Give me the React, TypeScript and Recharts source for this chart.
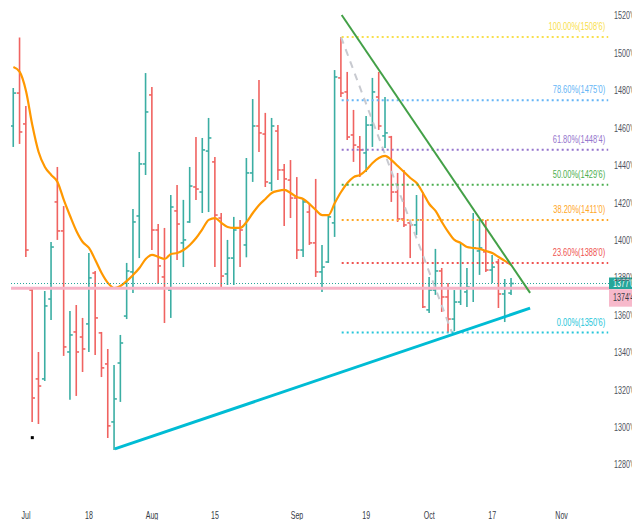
import { Bar, ComposedChart, Line, ReferenceDot, ReferenceLine, XAxis, YAxis } from "recharts";

// daily OHLC, Jun 29 .. Oct 20 (trading days)
const opens = [
  1461.2, 1478.8, 1462.3, 1373.5, 1326.0, 1326.0, 1368.7, 1420.6, 1405.1, 1340.4,
  1351.1, 1348.4, 1355.4, 1382.6, 1350.6, 1334.0, 1303.0, 1334.5, 1359.6, 1383.2,
  1413.1, 1440.9, 1477.8, 1405.6, 1380.5, 1373.5, 1415.8, 1398.7, 1409.9, 1428.6,
  1425.9, 1447.8, 1442.0, 1412.0, 1382.1, 1390.6, 1406.7, 1397.6, 1436.1, 1461.2,
  1456.9, 1430.7, 1458.5, 1437.7, 1432.3, 1422.7, 1394.9, 1415.2, 1398.7, 1383.2,
  1388.5, 1409.4, 1486.9, 1479.4, 1456.4, 1450.0, 1446.8, 1461.7, 1476.7, 1455.9,
  1455.3, 1425.9, 1411.5, 1409.4, 1408.3, 1411.0, 1362.9, 1373.5, 1383.7, 1369.8,
  1358.0, 1367.1, 1372.5, 1374.6, 1394.4, 1393.9, 1384.2, 1388.5, 1371.4, 1371.9,
];
const highs = [
  1481.5, 1508.5, 1471.9, 1374.6, 1340.4, 1373.0, 1399.2, 1439.3, 1418.4, 1362.3,
  1365.5, 1358.6, 1393.3, 1383.7, 1351.1, 1342.0, 1333.5, 1349.5, 1388.0, 1416.8,
  1447.3, 1489.5, 1482.0, 1408.8, 1406.7, 1424.3, 1429.7, 1421.7, 1439.3, 1455.3,
  1454.8, 1465.5, 1444.6, 1414.7, 1400.3, 1412.6, 1411.0, 1444.1, 1475.6, 1485.8,
  1468.2, 1465.5, 1461.7, 1440.9, 1443.0, 1433.9, 1422.2, 1420.0, 1432.9, 1397.6,
  1413.6, 1491.1, 1508.75, 1490.1, 1469.8, 1455.9, 1466.5, 1486.9, 1490.1, 1476.7,
  1455.9, 1436.1, 1437.7, 1411.0, 1424.3, 1425.9, 1380.5, 1395.5, 1385.3, 1377.3,
  1373.5, 1398.7, 1385.3, 1414.7, 1411.0, 1411.0, 1392.3, 1390.1, 1379.4, 1380.0,
];
const lows = [
  1450.0, 1451.6, 1391.2, 1303.0, 1301.9, 1324.9, 1357.5, 1400.3, 1338.3, 1314.8,
  1316.9, 1329.7, 1340.4, 1338.8, 1327.0, 1294.4, 1288.0, 1313.7, 1358.0, 1371.9,
  1390.6, 1435.0, 1394.9, 1376.8, 1355.9, 1358.6, 1389.6, 1385.8, 1409.4, 1421.7,
  1414.7, 1415.2, 1385.8, 1375.1, 1376.2, 1376.2, 1385.8, 1391.0, 1431.3, 1447.3,
  1428.6, 1426.5, 1432.3, 1407.8, 1412.0, 1390.1, 1391.2, 1397.6, 1380.5, 1372.5,
  1388.0, 1401.9, 1476.7, 1453.7, 1442.0, 1433.9, 1436.6, 1450.0, 1459.1, 1449.4,
  1420.6, 1409.9, 1407.2, 1390.6, 1402.9, 1363.9, 1361.3, 1370.9, 1361.8, 1350.75,
  1351.5, 1365.5, 1364.5, 1367.1, 1381.6, 1383.2, 1377.3, 1363.9, 1356.4, 1370.9,
];
const closes = [
  1478.8, 1458.0, 1394.9, 1315.8, 1322.2, 1365.0, 1396.5, 1405.1, 1343.1, 1349.5,
  1340.4, 1342.0, 1380.0, 1358.6, 1331.9, 1300.9, 1315.3, 1345.2, 1383.7, 1409.9,
  1440.9, 1468.7, 1405.6, 1386.4, 1374.6, 1417.9, 1408.8, 1400.3, 1429.1, 1427.5,
  1448.4, 1454.8, 1413.6, 1381.0, 1390.6, 1405.6, 1405.6, 1436.1, 1461.2, 1457.5,
  1431.3, 1461.2, 1437.7, 1432.9, 1422.7, 1394.9, 1420.6, 1398.7, 1383.2, 1385.8,
  1412.6, 1487.4, 1478.8, 1455.3, 1451.0, 1448.4, 1461.7, 1479.4, 1461.2, 1457.5,
  1425.9, 1411.5, 1408.3, 1408.3, 1411.0, 1364.5, 1373.5, 1383.7, 1369.8, 1358.0,
  1367.1, 1374.6, 1375.1, 1396.0, 1396.0, 1384.2, 1385.8, 1371.4, 1374.5, 1377.0,
];
// moving average as drawn
const ma = [
  1492.7, 1490.1, 1479.9, 1461.7, 1447.3, 1439.3, 1435.0, 1431.3, 1421.7, 1413.1,
  1405.1, 1399.2, 1396.0, 1389.6, 1382.6, 1377.3, 1374.6, 1375.7, 1378.4, 1381.6,
  1385.3, 1390.1, 1392.3, 1391.2, 1390.1, 1392.8, 1393.3, 1394.9, 1397.6, 1401.3,
  1406.1, 1411.0, 1412.0, 1409.4, 1407.2, 1406.7, 1406.7, 1409.9, 1414.7, 1419.0,
  1422.2, 1425.4, 1426.5, 1427.0, 1425.4, 1423.2, 1422.2, 1419.5, 1416.3, 1413.6,
  1413.6, 1420.0, 1425.9, 1430.7, 1433.9, 1435.0, 1437.7, 1441.4, 1444.1, 1445.2,
  1443.0, 1439.8, 1436.6, 1433.4, 1430.7, 1425.4, 1419.5, 1415.8, 1409.9, 1404.6,
  1400.3, 1398.7, 1396.5, 1396.0, 1395.5, 1394.4, 1393.3, 1391.2, 1389.1, 1386.9,
];

const dateTicks = [2, 12, 22, 32, 45, 56, 66, 76, 87];
const dateLabels = ["Jul", "18", "Aug", "15", "Sep", "19", "Oct", "17", "Nov"];
const priceTicks = [1280, 1300, 1320, 1340, 1360, 1380, 1400, 1420, 1440, 1460, 1480, 1500, 1520];

const fibPct = ["100.00%", "78.60%", "61.80%", "50.00%", "38.20%", "23.60%", "0.00%"];
const fibPrice = [1508.75, 1475, 1448.5, 1429.75, 1411, 1388, 1350.75];
const fibText = ["1508'6", "1475'0", "1448'4", "1429'6", "1411'0", "1388'0", "1350'6"];
const fibColors = ["#f9e04b", "#64b5f6", "#9575cd", "#4caf50", "#ffa726", "#ef5350", "#26c6da"];

const lastPrice = 1377;
const prevPrice = 1374.5;

const UP = "#26a69a";
const DOWN = "#ef5350";
const FONT = "'Liberation Sans', Arial, sans-serif";

const data = opens.map((o, i) => ({
  i,
  open: o,
  high: highs[i],
  low: lows[i],
  close: closes[i],
  ma: ma[i],
}));

// narrow text, the screenshot is squeezed sideways
const Narrow = ({ x, y, sx, anchor, size, fill, children }: any) => (
  <text transform={`translate(${x},${y}) scale(${sx},1)`} textAnchor={anchor} fontSize={size}
    fill={fill} fontFamily={FONT}>{children}</text>
);

const OhlcShape = (props: any) => {
  const { x, y, width, height, payload } = props;
  if (!payload || height == null) return null;
  const cx = x + width / 2;
  const top = Math.min(y, y + height);
  const bot = Math.max(y, y + height);
  const span = payload.high - payload.low || 1;
  const yAt = (v: number) => top + ((payload.high - v) / span) * (bot - top);
  const color = payload.close >= payload.open ? UP : DOWN;
  return (
    <g stroke={color} strokeWidth={1.6} opacity={0.9}>
      <line x1={cx} x2={cx} y1={top} y2={bot} />
      <line x1={cx - 2.8} x2={cx} y1={yAt(payload.open)} y2={yAt(payload.open)} />
      <line x1={cx} x2={cx + 2.8} y1={yAt(payload.close)} y2={yAt(payload.close)} />
    </g>
  );
};

const XTick = (props: any) => {
  const { x, y, payload } = props;
  const t = dateLabels[dateTicks.indexOf(payload.value)] ?? "";
  return <Narrow x={x} y={y + 14} sx={0.64} anchor="middle" size={11} fill="#363a45">{t}</Narrow>;
};

const YTick = (props: any) => {
  const { x, y, payload } = props;
  return (
    <Narrow x={x + 2} y={y + 3.5} sx={0.72} anchor="start" size={10} fill="#50535e">
      {`${payload.value}'0`}
    </Narrow>
  );
};

const fibLabel = (k: number) => (p: any) => {
  const vb = p.viewBox || {};
  return (
    <Narrow x={vb.x + vb.width - 3} y={vb.y - 7} sx={0.68} anchor="end" size={11} fill={fibColors[k]}>
      {`${fibPct[k]}(${fibText[k]})`}
    </Narrow>
  );
};

const priceBox = (text: string, fill: string, color: string, dy: number, h: number) => (p: any) => {
  const vb = p.viewBox || {};
  const x0 = vb.x + vb.width - 3;
  return (
    <g>
      <rect x={x0} y={vb.y + dy} width={31} height={h} fill={fill} />
      <Narrow x={x0 + 4} y={vb.y + dy + h / 2 + 3.5} sx={0.72} anchor="start" size={10} fill={color}>
        {text}
      </Narrow>
    </g>
  );
};

export default function App() {
  return (
    <div style={{ width: 640, height: 528, background: "#fff", margin: -8, fontFamily: FONT }}>
      <ComposedChart width={640} height={528} data={data} margin={{ top: 0, right: 0, bottom: 0, left: 11 }}>
        <XAxis dataKey="i" type="number" domain={[-0.38, 95]} allowDataOverflow ticks={dateTicks}
          interval={0} axisLine={false} tickLine={false} tickSize={0} tickMargin={0} height={23} tick={<XTick />} />
        <YAxis orientation="right" type="number" domain={[1258.6, 1528.55]} allowDataOverflow ticks={priceTicks}
          interval={0} axisLine={false} tickLine={false} tickSize={0} tickMargin={0} width={28} tick={<YTick />} />
        <Bar dataKey={(d: any) => [d.low, d.high]} barSize={4} shape={<OhlcShape />} isAnimationActive={false} />
        <Line type="monotone" dataKey="ma" stroke="#ff9800" strokeWidth={2.2} dot={false} isAnimationActive={false} />
        <ReferenceLine segment={[{ x: 52, y: 1508.75 }, { x: 69.6, y: 1350.75 }]} stroke="#c8cad0"
          strokeWidth={2} strokeDasharray="7 6" />
        {fibPrice.map((v, k) => (
          <ReferenceLine key={k} segment={[{ x: 52.1, y: v }, { x: 94.4, y: v }]} stroke={fibColors[k]}
            strokeWidth={2} strokeDasharray="2 3" label={fibLabel(k)} />
        ))}
        <ReferenceLine y={prevPrice} stroke="#f7b4c7" strokeWidth={3}
          label={priceBox("1374'4", "#f7b9cb", "#3b3e47", 1, 17.5)} />
        <ReferenceLine y={lastPrice} stroke={UP} strokeWidth={1} strokeDasharray="1 2"
          label={priceBox("1377'0", UP, "#ffffff", -6, 11.5)} />
        <ReferenceLine segment={[{ x: 52.1, y: 1520.5 }, { x: 82, y: 1372 }]} stroke="#43a047" strokeWidth={2} />
        <ReferenceLine segment={[{ x: 16.1, y: 1288.6 }, { x: 82, y: 1363.8 }]} stroke="#00bcd4" strokeWidth={3} />
        <ReferenceDot x={3} y={1294.6} r={1.5}
          shape={(p: any) => <rect x={p.cx - 1.5} y={p.cy - 1.5} width={3} height={3} fill="#000" />} />
      </ComposedChart>
    </div>
  );
}
